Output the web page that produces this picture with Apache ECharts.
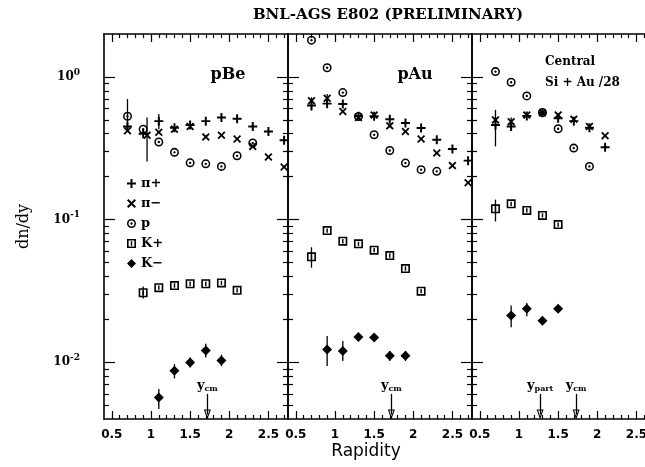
<!DOCTYPE html>
<html>
<head>
<meta charset="utf-8">
<script src="https://cdn.jsdelivr.net/npm/echarts@6/dist/echarts.min.js"></script>
<style>
html, body { margin: 0; padding: 0; background: #fff; }
#chart { width: 645px; height: 467px; }
</style>
</head>
<body>
<div id="chart"></div>
<script>
// ---- data: [rapidity, dn/dy] ----
// pBe
var piPlusBe  = [[0.7, 0.45], [0.9, 0.40], [1.1, 0.49], [1.3, 0.44], [1.5, 0.46], [1.7, 0.49], [1.9, 0.52], [2.1, 0.51], [2.3, 0.45], [2.5, 0.415], [2.7, 0.36]];
var piMinusBe = [[0.7, 0.42], [0.95, 0.39], [1.1, 0.41], [1.3, 0.43], [1.5, 0.45], [1.7, 0.38], [1.9, 0.39], [2.1, 0.367], [2.3, 0.326], [2.5, 0.275], [2.7, 0.234]];
var protonBe  = [[0.7, 0.53], [0.9, 0.43], [1.1, 0.35], [1.3, 0.296], [1.5, 0.25], [1.7, 0.246], [1.9, 0.236], [2.1, 0.28], [2.3, 0.344]];
var kPlusBe   = [[0.9, 0.0307], [1.1, 0.0333], [1.3, 0.0345], [1.5, 0.0355], [1.7, 0.0355], [1.9, 0.036], [2.1, 0.0319]];
var kMinusBe  = [[1.1, 0.00566], [1.3, 0.0087], [1.5, 0.00995], [1.7, 0.0121], [1.9, 0.0103]];
// pAu
var piPlusAu  = [[0.7, 0.63], [0.9, 0.65], [1.1, 0.647], [1.3, 0.53], [1.5, 0.53], [1.7, 0.506], [1.9, 0.475], [2.1, 0.438], [2.3, 0.363], [2.5, 0.312], [2.7, 0.259]];
var piMinusAu = [[0.7, 0.68], [0.9, 0.71], [1.1, 0.572], [1.3, 0.52], [1.5, 0.54], [1.7, 0.454], [1.9, 0.415], [2.1, 0.367], [2.3, 0.293], [2.5, 0.239], [2.7, 0.181]];
var protonAu  = [[0.7, 1.81], [0.9, 1.16], [1.1, 0.777], [1.3, 0.528], [1.5, 0.393], [1.7, 0.305], [1.9, 0.249], [2.1, 0.224], [2.3, 0.218]];
var kPlusAu   = [[0.7, 0.0548], [0.9, 0.0838], [1.1, 0.0705], [1.3, 0.0676], [1.5, 0.061], [1.7, 0.056], [1.9, 0.0454], [2.1, 0.0315]];
var kMinusAu  = [[0.9, 0.0123], [1.1, 0.012], [1.3, 0.015], [1.5, 0.0149], [1.7, 0.0111], [1.9, 0.0111]];
// Central Si + Au /28
var piPlusSi  = [[0.7, 0.46], [0.9, 0.45], [1.1, 0.533], [1.3, 0.56], [1.5, 0.514], [1.7, 0.49], [1.9, 0.44], [2.1, 0.322]];
var piMinusSi = [[0.7, 0.50], [0.9, 0.486], [1.1, 0.54], [1.3, 0.56], [1.5, 0.542], [1.7, 0.506], [1.9, 0.45], [2.1, 0.387]];
var protonSi  = [[0.7, 1.09], [0.9, 0.918], [1.1, 0.736], [1.3, 0.563], [1.5, 0.433], [1.7, 0.317], [1.9, 0.236]];
var kPlusSi   = [[0.7, 0.119], [0.9, 0.129], [1.1, 0.116], [1.3, 0.107], [1.5, 0.0923]];
var kMinusSi  = [[0.9, 0.0213], [1.1, 0.0237], [1.3, 0.0195], [1.5, 0.0237]];

// error bars: [rapidity, low, high]
var errBe = [[0.7, 0.43, 0.70], [0.95, 0.255, 0.52], [1.1, 0.43, 0.55], [0.9, 0.028, 0.034],
             [1.1, 0.0047, 0.0065], [1.3, 0.0077, 0.0097], [1.5, 0.0092, 0.0108], [1.7, 0.0108, 0.0135], [1.9, 0.0094, 0.0113]];
var errAu = [[0.7, 0.58, 0.72], [0.9, 0.62, 0.76], [0.7, 0.046, 0.064],
             [0.9, 0.0094, 0.0153], [1.1, 0.0102, 0.0141], [1.7, 0.0102, 0.012], [1.9, 0.0102, 0.012]];
var errSi = [[0.7, 0.326, 0.588], [0.9, 0.42, 0.52], [0.7, 0.097, 0.138], [0.9, 0.0176, 0.025], [1.1, 0.021, 0.026]];

// characteristic rapidities (arrows)
var arrowsBe = [[1.72, 'cm']];
var arrowsAu = [[1.72, 'cm']];
var arrowsSi = [[1.27, 'part'], [1.73, 'cm']];

// ticks
var xMajor = [0.5, 1, 1.5, 2, 2.5];
var xMinor = [0.6, 0.7, 0.8, 0.9, 1.1, 1.2, 1.3, 1.4, 1.6, 1.7, 1.8, 1.9, 2.1, 2.2, 2.3, 2.4, 2.6, 2.7];
var yMajor = [0.01, 0.1, 1];
var yMinor = [0.005, 0.006, 0.007, 0.008, 0.009,
              0.02, 0.03, 0.04, 0.05, 0.06, 0.07, 0.08, 0.09,
              0.2, 0.3, 0.4, 0.5, 0.6, 0.7, 0.8, 0.9];
var names = ['π+', 'π−', 'p', 'K+', 'K−'];

var chart = echarts.init(document.getElementById('chart'));

// symbols
var symPlus = 'path://M3.9,0 H6.1 V3.9 H10 V6.1 H6.1 V10 H3.9 V6.1 H0 V3.9 H3.9 Z';
var symCross = 'path://M0,1.6 L1.6,0 L5,3.4 L8.4,0 L10,1.6 L6.6,5 L10,8.4 L8.4,10 L5,6.6 L1.6,10 L0,8.4 L3.4,5 Z';
var symRing = 'path://M0,10 A10,10 0 1,1 20,10 A10,10 0 1,1 0,10 Z M3.4,10 A6.6,6.6 0 1,0 16.6,10 A6.6,6.6 0 1,0 3.4,10 Z M7.4,10 A2.6,2.6 0 1,1 12.6,10 A2.6,2.6 0 1,1 7.4,10 Z';
var symSquare = 'path://M0,0 H10 V10 H0 Z M1.8,1.8 V8.2 H8.2 V1.8 Z M4.2,2.6 H5.8 V7.4 H4.2 Z';
var symArrow = 'path://M5,0 L10,14 L0,14 Z M5,4.5 L2.1,12.6 L7.9,12.6 Z';

var xMin = 0.4, xMax = 2.75, yMin = 0.004, yMax = 2;
var gridLeft = [104, 288, 472];
var serifFont = 'DejaVu Serif';

var grids = [], xAxes = [], yAxes = [], series = [];

function xAxis(g, pos, ticks, len, labels) {
    return {
        gridIndex: g, type: 'value', position: pos, min: xMin, max: xMax,
        axisLine: { show: labels !== null, onZero: false, lineStyle: { color: '#000', width: 1.6 } },
        splitLine: { show: false },
        axisTick: { inside: true, length: len, customValues: ticks, lineStyle: { color: '#000', width: 1.2 } },
        axisLabel: labels ? {
            customValues: xMajor, color: '#000', fontSize: 12, fontWeight: 'bold', fontFamily: 'DejaVu Sans', margin: 10,
            formatter: function (v) { return String(v); }
        } : { show: false }
    };
}

function yAxis(g, pos, ticks, len, opts) {
    var a = {
        gridIndex: g, type: 'log', position: pos, min: yMin, max: yMax, logBase: 10,
        axisLine: { show: opts.line, onZero: false, lineStyle: { color: '#000', width: 1.6 } },
        splitLine: { show: false },
        axisTick: { inside: true, length: len, customValues: ticks, lineStyle: { color: '#000', width: 1.2 } },
        axisLabel: { show: false }
    };
    if (opts.labels) {
        a.axisLabel = {
            show: true, customValues: yMajor, margin: 24, color: '#000',
            formatter: function (v) { return '{b|10}{s|' + Math.round(Math.log10(v)) + '}'; },
            rich: {
                b: { fontSize: 12, fontWeight: 'bold', fontFamily: serifFont, color: '#000' },
                s: { fontSize: 9, fontWeight: 'bold', fontFamily: serifFont, color: '#000', padding: [0, 0, 9, 0] }
            }
        };
        a.name = 'dn/dy';
        a.nameLocation = 'middle';
        a.nameGap = 72;
        a.nameTextStyle = { fontSize: 16, fontFamily: serifFont, color: '#000' };
    }
    return a;
}

var panels = [
    { pip: piPlusBe, pim: piMinusBe, p: protonBe, kp: kPlusBe, km: kMinusBe, err: errBe, arrows: arrowsBe },
    { pip: piPlusAu, pim: piMinusAu, p: protonAu, kp: kPlusAu, km: kMinusAu, err: errAu, arrows: arrowsAu },
    { pip: piPlusSi, pim: piMinusSi, p: protonSi, kp: kPlusSi, km: kMinusSi, err: errSi, arrows: arrowsSi }
];

panels.forEach(function (pn, g) {
    grids.push({ left: gridLeft[g], top: 34, width: 184, height: 385, outerBoundsMode: 'none', containLabel: false });
    xAxes.push(xAxis(g, 'bottom', xMajor, 8, true));
    xAxes.push(xAxis(g, 'bottom', xMinor, 4, null));
    xAxes.push(xAxis(g, 'top', xMajor, 8, false));
    xAxes.push(xAxis(g, 'top', xMinor, 4, null));
    yAxes.push(yAxis(g, 'left', yMajor, 11, { line: true, labels: g === 0 }));
    yAxes.push(yAxis(g, 'left', yMinor, 5, { line: false }));
    yAxes.push(yAxis(g, 'right', yMajor, 11, { line: true }));
    yAxes.push(yAxis(g, 'right', yMinor, 5, { line: false }));

    var xi = g * 4, yi = g * 4;
    series.push({
        type: 'custom', xAxisIndex: xi, yAxisIndex: yi, data: pn.err, silent: true, z: 1,
        encode: { x: 0, y: [1, 2] },
        renderItem: function (params, api) {
            var a = api.coord([api.value(0), api.value(1)]);
            var b = api.coord([api.value(0), api.value(2)]);
            return { type: 'line', shape: { x1: a[0], y1: a[1], x2: b[0], y2: b[1] }, style: { stroke: '#000', lineWidth: 1.3 } };
        }
    });
    var defs = [
        [names[0], pn.pip, symPlus, 9],
        [names[1], pn.pim, symCross, 8],
        [names[2], pn.p, symRing, 9],
        [names[3], pn.kp, symSquare, 9],
        [names[4], pn.km, 'diamond', 10]
    ];
    defs.forEach(function (d, k) {
        var s = {
            name: d[0], type: 'scatter', xAxisIndex: xi, yAxisIndex: yi, data: d[1],
            symbol: d[2], symbolSize: d[3], itemStyle: { color: '#000', opacity: 1 }, z: 3
        };
        if (k === 4) {
            s.markLine = {
                silent: true, symbol: ['none', symArrow], symbolSize: [7, 10],
                lineStyle: { color: '#000', width: 1.3, type: 'solid' },
                label: {
                    show: true, position: 'start', distance: 1,
                    formatter: function (p) { return '{y|y}{s|' + p.name + '}'; },
                    rich: {
                        y: { fontSize: 13, fontWeight: 'bold', fontFamily: serifFont, color: '#000' },
                        s: { fontSize: 8, fontWeight: 'bold', fontFamily: serifFont, color: '#000', padding: [6, 0, 0, 0] }
                    }
                },
                data: pn.arrows.map(function (a) {
                    return [{ coord: [a[0], 0.006], name: a[1] }, { coord: [a[0], 0.0043] }];
                })
            };
        }
        series.push(s);
    });
});

var option = {
    animation: false,
    backgroundColor: '#fff',
    grid: grids,
    xAxis: xAxes,
    yAxis: yAxes,
    legend: {
        data: names, orient: 'vertical', left: 122, top: 172,
        itemWidth: 9, itemHeight: 9, itemGap: 7, selectedMode: false,
        textStyle: { fontSize: 13, fontWeight: 'bold', fontFamily: serifFont, color: '#000' }
    },
    graphic: [
        { type: 'text', x: 388, y: 15, style: { text: 'BNL-AGS E802 (PRELIMINARY)', font: 'bold 15px "DejaVu Serif"', fill: '#000', align: 'center', verticalAlign: 'middle' } },
        { type: 'text', x: 228, y: 75, style: { text: 'pBe', font: 'bold 16px "DejaVu Serif"', fill: '#000', align: 'center', verticalAlign: 'middle' } },
        { type: 'text', x: 415, y: 75, style: { text: 'pAu', font: 'bold 16px "DejaVu Serif"', fill: '#000', align: 'center', verticalAlign: 'middle' } },
        { type: 'text', x: 545, y: 62, style: { text: 'Central', font: 'bold 12px "DejaVu Serif"', fill: '#000', align: 'left', verticalAlign: 'middle' } },
        { type: 'text', x: 545, y: 83, style: { text: 'Si + Au /28', font: 'bold 12px "DejaVu Serif"', fill: '#000', align: 'left', verticalAlign: 'middle' } },
        { type: 'text', x: 366, y: 452, style: { text: 'Rapidity', font: '17px "DejaVu Sans"', fill: '#000', align: 'center', verticalAlign: 'middle' } }
    ],
    series: series
};
chart.setOption(option);
</script>
</body>
</html>
